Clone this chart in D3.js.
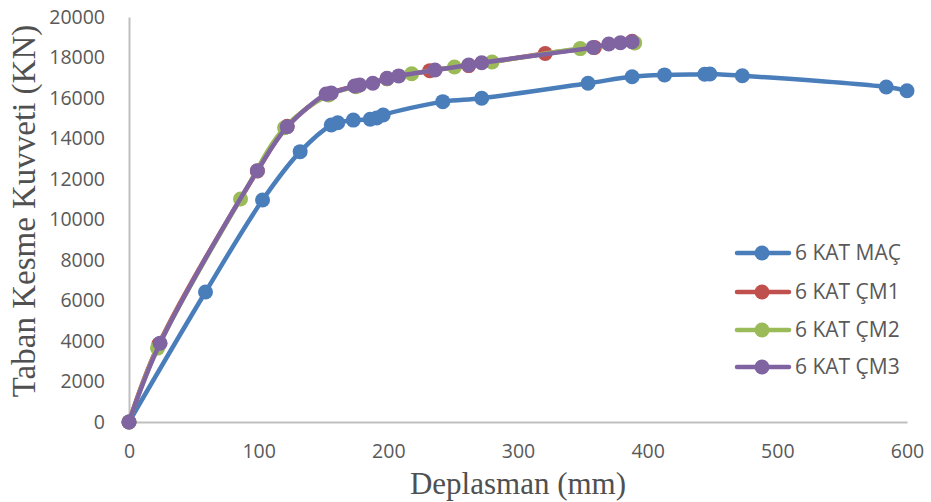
<!DOCTYPE html>
<html>
<head>
<meta charset="utf-8">
<script src="https://cdn.jsdelivr.net/npm/d3@7"></script>
<style>
  html, body { margin: 0; padding: 0; background: #ffffff; }
  svg { display: block; }
</style>
</head>
<body>
<svg id="chart" width="931" height="502"></svg>
<script>
// ---------- data ----------
const seriesNames = ["6 KAT MAÇ", "6 KAT ÇM1", "6 KAT ÇM2", "6 KAT ÇM3"];
const seriesColors = ["#4A7EBB", "#C0504D", "#9BBB59", "#8064A2"];

const macX = [0, 59, 103, 132, 156, 161, 173, 186, 191, 196, 242, 272, 354, 388, 413, 444, 448, 473, 584, 600];
const macY = [0, 6420, 10960, 13350, 14670, 14780, 14910, 14950, 15010, 15160, 15820, 15990, 16730, 17050, 17140, 17170, 17185, 17100, 16540, 16360];

const cm1X = [0, 23, 99, 122, 154, 176, 199, 232, 262, 321, 359, 388];
const cm1Y = [0, 3850, 12400, 14600, 16200, 16600, 16950, 17350, 17600, 18200, 18500, 18800];

const cm2X = [0, 22, 86, 120, 154, 175, 199, 218, 251, 280, 348, 390];
const cm2Y = [0, 3650, 11010, 14530, 16150, 16560, 16950, 17200, 17530, 17780, 18440, 18720];

const cm3X = [0, 24, 99, 122, 152, 156, 174, 178, 188, 199, 208, 236, 262, 272, 358, 370, 379, 388];
const cm3Y = [0, 3890, 12410, 14580, 16200, 16250, 16590, 16640, 16730, 16970, 17090, 17380, 17630, 17740, 18500, 18670, 18730, 18780];

const xTicks = [0, 100, 200, 300, 400, 500, 600];
const yTicks = [0, 2000, 4000, 6000, 8000, 10000, 12000, 14000, 16000, 18000, 20000];

const xTitle = "Deplasman (mm)";
const yTitle = "Taban Kesme Kuvveti (KN)";

// ---------- layout ----------
const svg = d3.select("#chart");
const plot = { left: 129, right: 907, top: 17, bottom: 422 };

const x = d3.scaleLinear().domain([0, 600]).range([plot.left, plot.right]);
const y = d3.scaleLinear().domain([0, 20000]).range([plot.bottom, plot.top]);

const tickFont = "'Open Sans', 'DejaVu Sans', sans-serif";
const tickColor = "#595959";
const axisColor = "#BFBFBF";

// axes
const xAxis = d3.axisBottom(x).tickValues(xTicks).tickSize(0).tickPadding(22).tickFormat(d3.format("d"));
const yAxis = d3.axisLeft(y).tickValues(yTicks).tickSize(0).tickPadding(24).tickFormat(d3.format("d"));

const gx = svg.append("g").attr("transform", `translate(0,${plot.bottom})`).call(xAxis);
const gy = svg.append("g").attr("transform", `translate(${plot.left},0)`).call(yAxis);

[gx, gy].forEach(g => {
  g.select(".domain").attr("stroke", axisColor).attr("stroke-width", 2);
  g.selectAll("text")
    .attr("font-family", tickFont)
    .attr("font-size", 19.5)
    .attr("fill", tickColor);
});

// axis titles
svg.append("text")
  .attr("x", 518).attr("y", 494)
  .attr("text-anchor", "middle")
  .attr("font-family", "'Liberation Serif', 'Times New Roman', serif")
  .attr("font-size", 31)
  .attr("fill", "#505050")
  .text(xTitle);

svg.append("text")
  .attr("transform", "translate(35,211) rotate(-90)")
  .attr("text-anchor", "middle")
  .attr("font-family", "'Liberation Serif', 'Times New Roman', serif")
  .attr("font-size", 33)
  .attr("fill", "#505050")
  .text(yTitle);

// series
const series = [
  { name: seriesNames[0], color: seriesColors[0], xs: macX, ys: macY },
  { name: seriesNames[1], color: seriesColors[1], xs: cm1X, ys: cm1Y },
  { name: seriesNames[2], color: seriesColors[2], xs: cm2X, ys: cm2Y },
  { name: seriesNames[3], color: seriesColors[3], xs: cm3X, ys: cm3Y }
].map(s => ({ ...s, pts: s.xs.map((v, i) => ({ x: v, y: s.ys[i] })) }));

const line = d3.line()
  .x(d => x(d.x))
  .y(d => y(d.y))
  .curve(d3.curveCatmullRom.alpha(0.5));

const gSeries = svg.append("g");
series.forEach(s => {
  const g = gSeries.append("g");
  g.append("path")
    .datum(s.pts)
    .attr("d", line)
    .attr("fill", "none")
    .attr("stroke", s.color)
    .attr("stroke-width", 4.5)
    .attr("stroke-linejoin", "round")
    .attr("stroke-linecap", "round");
  g.selectAll("circle")
    .data(s.pts)
    .join("circle")
    .attr("cx", d => x(d.x))
    .attr("cy", d => y(d.y))
    .attr("r", 7.5)
    .attr("fill", s.color);
});

// legend
const legend = svg.append("g");
const legendRowY = [253, 292, 330, 367];
series.forEach((s, i) => {
  const g = legend.append("g").attr("transform", `translate(0,${legendRowY[i]})`);
  g.append("line")
    .attr("x1", 737).attr("x2", 789)
    .attr("y1", 0).attr("y2", 0)
    .attr("stroke", s.color).attr("stroke-width", 4.5)
    .attr("stroke-linecap", "round");
  g.append("circle").attr("cx", 762).attr("cy", 0).attr("r", 7.5).attr("fill", s.color);
  g.append("text")
    .attr("x", 795).attr("y", 0).attr("dy", "0.35em")
    .attr("font-family", tickFont)
    .attr("font-size", 21)
    .attr("fill", tickColor)
    .text(s.name);
});
</script>
</body>
</html>
